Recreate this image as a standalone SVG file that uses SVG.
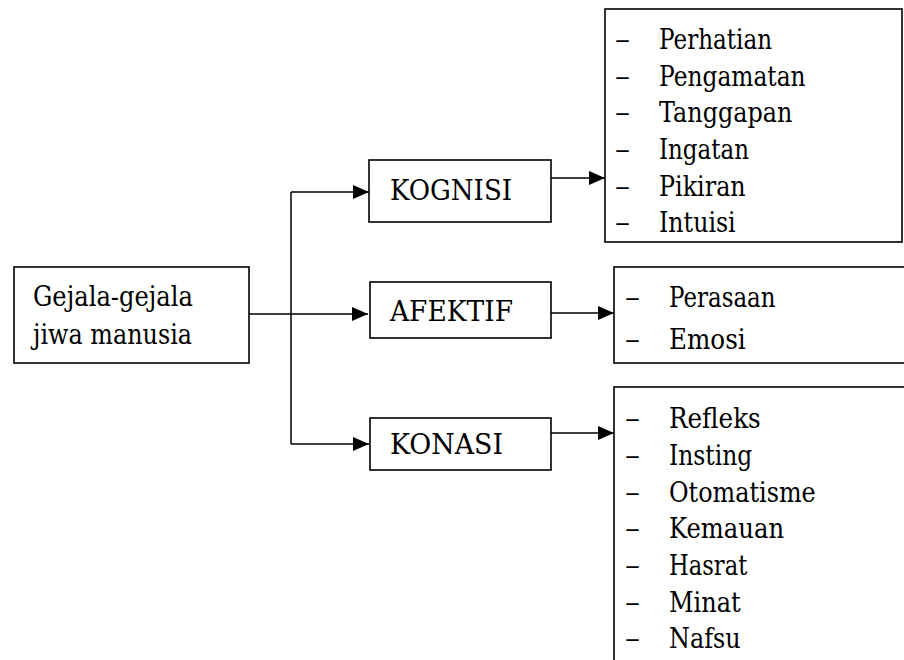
<svg xmlns="http://www.w3.org/2000/svg" width="904" height="660" viewBox="0 0 904 660">
  <style>
    .box { fill: #fff; stroke: #000; stroke-width: 1.6; }
    .wire { fill: none; stroke: #000; stroke-width: 1.5; }
    .t { font-family: 'DejaVu Serif', 'Liberation Serif', serif; font-size: 27px; fill: #000; }
  </style>
  <defs>
    <marker id="arrow" markerUnits="userSpaceOnUse" markerWidth="17" markerHeight="15" refX="16" refY="7" orient="auto">
      <path d="M0,0 L16,7 L0,14 Z" fill="#000"/>
    </marker>
  </defs>
  <rect width="904" height="660" fill="#fff"/>

  <!-- connectors -->
  <g id="connectors">
    <line class="wire" x1="249" y1="314" x2="368" y2="314" marker-end="url(#arrow)"/>
    <line class="wire" x1="291" y1="192" x2="291" y2="444"/>
    <line class="wire" x1="291" y1="192" x2="369" y2="192" marker-end="url(#arrow)"/>
    <line class="wire" x1="291" y1="444" x2="369" y2="444" marker-end="url(#arrow)"/>
    <line class="wire" x1="551" y1="178" x2="605" y2="178" marker-end="url(#arrow)"/>
    <line class="wire" x1="551" y1="313" x2="614" y2="313" marker-end="url(#arrow)"/>
    <line class="wire" x1="551" y1="433" x2="614" y2="433" marker-end="url(#arrow)"/>
  </g>

  <!-- text widths are fixed with textLength so every label keeps its column -->
  <g class="t">
    <!-- root -->
    <g id="gejala">
      <rect class="box" x="14" y="267" width="235" height="96"/>
      <text x="33" y="305.5" textLength="160" lengthAdjust="spacingAndGlyphs">Gejala-gejala</text>
      <text x="33" y="344" textLength="159" lengthAdjust="spacingAndGlyphs">jiwa manusia</text>
    </g>

    <!-- categories -->
    <g id="kognisi">
      <rect class="box" x="369" y="160" width="182" height="62"/>
      <text x="390" y="199.5" textLength="122" lengthAdjust="spacingAndGlyphs">KOGNISI</text>
    </g>
    <g id="afektif">
      <rect class="box" x="370" y="282" width="181" height="56"/>
      <text x="390" y="320.5" textLength="123" lengthAdjust="spacingAndGlyphs">AFEKTIF</text>
    </g>
    <g id="konasi">
      <rect class="box" x="370" y="418" width="181" height="52"/>
      <text x="390" y="454" textLength="113" lengthAdjust="spacingAndGlyphs">KONASI</text>
    </g>

    <!-- item lists -->
    <g id="kognisi-items">
      <rect class="box" x="605" y="9" width="297" height="233"/>
      <text x="615" y="49" textLength="15" lengthAdjust="spacingAndGlyphs">–</text><text x="659" y="49" textLength="113" lengthAdjust="spacingAndGlyphs">Perhatian</text>
      <text x="615" y="85.7" textLength="15" lengthAdjust="spacingAndGlyphs">–</text><text x="659" y="85.7" textLength="146.6" lengthAdjust="spacingAndGlyphs">Pengamatan</text>
      <text x="615" y="122.3" textLength="15" lengthAdjust="spacingAndGlyphs">–</text><text x="659" y="122.3" textLength="133.3" lengthAdjust="spacingAndGlyphs">Tanggapan</text>
      <text x="615" y="159" textLength="15" lengthAdjust="spacingAndGlyphs">–</text><text x="659" y="159" textLength="90" lengthAdjust="spacingAndGlyphs">Ingatan</text>
      <text x="615" y="195.6" textLength="15" lengthAdjust="spacingAndGlyphs">–</text><text x="659" y="195.6" textLength="86.7" lengthAdjust="spacingAndGlyphs">Pikiran</text>
      <text x="615" y="232.3" textLength="15" lengthAdjust="spacingAndGlyphs">–</text><text x="659" y="232.3" textLength="76.7" lengthAdjust="spacingAndGlyphs">Intuisi</text>
    </g>
    <g id="afektif-items">
      <rect class="box" x="614" y="267" width="300" height="96"/>
      <text x="625" y="306.7" textLength="15" lengthAdjust="spacingAndGlyphs">–</text><text x="669" y="306.7" textLength="106.6" lengthAdjust="spacingAndGlyphs">Perasaan</text>
      <text x="625" y="349.3" textLength="15" lengthAdjust="spacingAndGlyphs">–</text><text x="669" y="349.3" textLength="76.7" lengthAdjust="spacingAndGlyphs">Emosi</text>
    </g>
    <g id="konasi-items">
      <rect class="box" x="614" y="387" width="300" height="290"/>
      <text x="625" y="428.3" textLength="15" lengthAdjust="spacingAndGlyphs">–</text><text x="669" y="428.3" textLength="91.7" lengthAdjust="spacingAndGlyphs">Refleks</text>
      <text x="625" y="465" textLength="15" lengthAdjust="spacingAndGlyphs">–</text><text x="669" y="465" textLength="83.3" lengthAdjust="spacingAndGlyphs">Insting</text>
      <text x="625" y="501.7" textLength="15" lengthAdjust="spacingAndGlyphs">–</text><text x="669" y="501.7" textLength="146.7" lengthAdjust="spacingAndGlyphs">Otomatisme</text>
      <text x="625" y="538.3" textLength="15" lengthAdjust="spacingAndGlyphs">–</text><text x="669" y="538.3" textLength="115" lengthAdjust="spacingAndGlyphs">Kemauan</text>
      <text x="625" y="575" textLength="15" lengthAdjust="spacingAndGlyphs">–</text><text x="669" y="575" textLength="78.3" lengthAdjust="spacingAndGlyphs">Hasrat</text>
      <text x="625" y="611.7" textLength="15" lengthAdjust="spacingAndGlyphs">–</text><text x="669" y="611.7" textLength="71.7" lengthAdjust="spacingAndGlyphs">Minat</text>
      <text x="625" y="648.3" textLength="15" lengthAdjust="spacingAndGlyphs">–</text><text x="669" y="648.3" textLength="71.6" lengthAdjust="spacingAndGlyphs">Nafsu</text>
    </g>
  </g>
</svg>
